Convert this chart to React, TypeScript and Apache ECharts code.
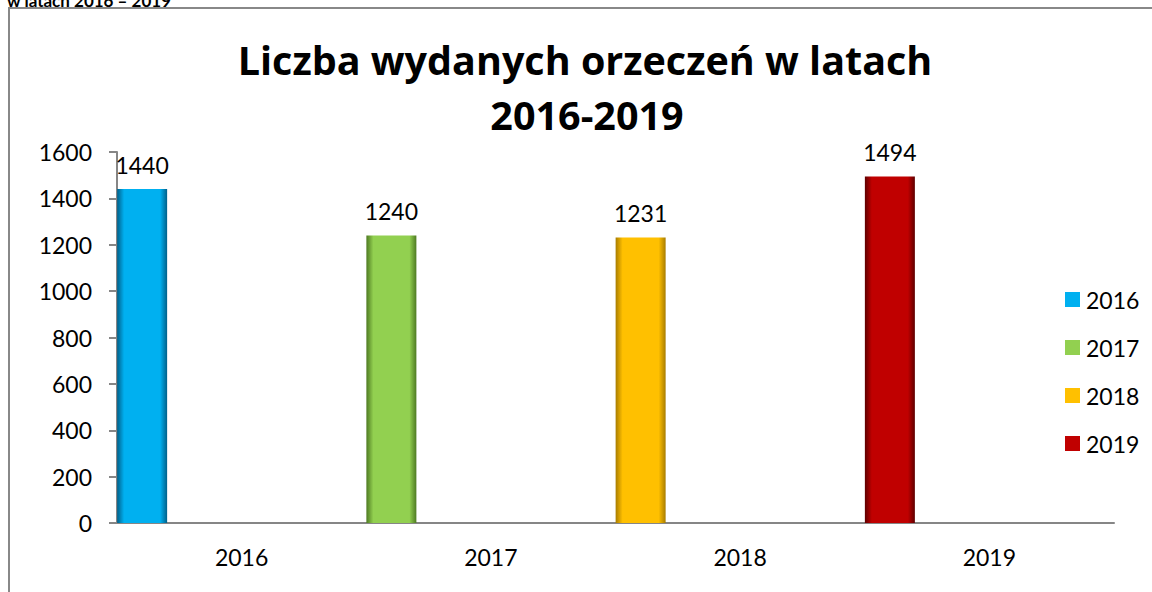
import React, { useEffect, useRef } from "react";
import * as echarts from "echarts";

const categories = ["2016", "2017", "2018", "2019"];
const seriesNames = ["2016", "2017", "2018", "2019"];
const values2016 = [1440, null, null, null];
const values2017 = [null, 1240, null, null];
const values2018 = [null, null, 1231, null];
const values2019 = [null, null, null, 1494];
const yTicks = { min: 0, max: 1600, interval: 200 };
const titleLine1 = "Liczba wydanych orzeczeń w latach";
const titleLine2 = "2016-2019";
const topCutText = "w latach 2016 – 2019";

const colors = ["#00B0F0", "#92D050", "#FFC000", "#C00000"];
const darks = ["#00608A", "#4E7A22", "#A87C00", "#5E0000"];

const FONT = "Lato, 'Open Sans', sans-serif";
const TITLE_FONT = "'Open Sans', Lato, sans-serif";

export default function App() {
  const ref = useRef<HTMLDivElement>(null);
  useEffect(() => {
    if (!ref.current) return;
    const chart = echarts.init(ref.current, null, { renderer: "svg" });
    const allValues = [values2016, values2017, values2018, values2019];
    const grad = (i: number) =>
      new echarts.graphic.LinearGradient(0, 0, 1, 0, [
        { offset: 0, color: darks[i] },
        { offset: 0.14, color: colors[i] },
        { offset: 0.86, color: colors[i] },
        { offset: 1, color: darks[i] },
      ]);
    const series: any[] = allValues.map((vals, i) => ({
      name: seriesNames[i],
      type: "bar",
      stack: "years",
      data: vals,
      barWidth: 50,
      barGap: "298%",
      itemStyle: { color: grad(i) },
      label: {
        show: true,
        position: "top",
        distance: 13,
        fontFamily: FONT,
        fontSize: 23,
        color: "#000",
      },
    }));
    series.push({
      name: "_spacer",
      type: "bar",
      stack: "spacer",
      data: [null, null, null, null],
      barWidth: 50,
      barGap: "298%",
      silent: true,
    });
    chart.setOption({
      animation: false,
      textStyle: { fontFamily: FONT },
      graphic: [
        {
          type: "rect",
          shape: { x: 9, y: 8, width: 1160, height: 620 },
          style: { fill: "none", stroke: "#888888", lineWidth: 2 },
          z: -1,
        },
        {
          type: "text",
          x: 7,
          y: 9,
          style: {
            text: topCutText,
            font: "bold 17px " + FONT,
            fill: "#000",
            verticalAlign: "bottom",
          },
        },
        {
          type: "text",
          x: 585,
          y: 60,
          style: {
            text: titleLine1,
            font: "bold 39.5px " + TITLE_FONT,
            fill: "#000",
            align: "center",
            verticalAlign: "middle",
          },
        },
        {
          type: "text",
          x: 587,
          y: 115,
          style: {
            text: titleLine2,
            font: "bold 39.5px " + TITLE_FONT,
            fill: "#000",
            align: "center",
            verticalAlign: "middle",
          },
        },
      ],
      legend: {
        orient: "vertical",
        left: 1060,
        top: 283,
        itemWidth: 15,
        itemHeight: 15,
        itemGap: 25,
        icon: "rect",
        data: seriesNames.map((n, i) => ({ name: n, itemStyle: { color: colors[i] } })),
        textStyle: { fontFamily: FONT, fontSize: 23, color: "#000", padding: [0, 0, 0, 1] },
      },
      grid: { left: 117, right: 38, top: 152, bottom: 69, containLabel: false },
      xAxis: {
        type: "category",
        data: categories,
        axisLine: { lineStyle: { color: "#868686", width: 2 } },
        axisTick: { show: false },
        axisLabel: { fontFamily: FONT, fontSize: 23, color: "#000", margin: 22 },
      },
      yAxis: {
        type: "value",
        min: yTicks.min,
        max: yTicks.max,
        interval: yTicks.interval,
        splitLine: { show: false },
        axisLine: { show: true, lineStyle: { color: "#868686", width: 2 } },
        axisTick: { show: true, length: 8, lineStyle: { color: "#868686", width: 2 } },
        axisLabel: {
          fontFamily: FONT,
          fontSize: 23,
          color: "#000",
          margin: 25,
          formatter: (v: number) => String(v),
        },
      },
      series,
    });
    return () => chart.dispose();
  }, []);
  return (
    <div
      ref={ref}
      style={{ position: "absolute", left: 0, top: 0, width: 1152, height: 592, background: "#fff" }}
    />
  );
}
